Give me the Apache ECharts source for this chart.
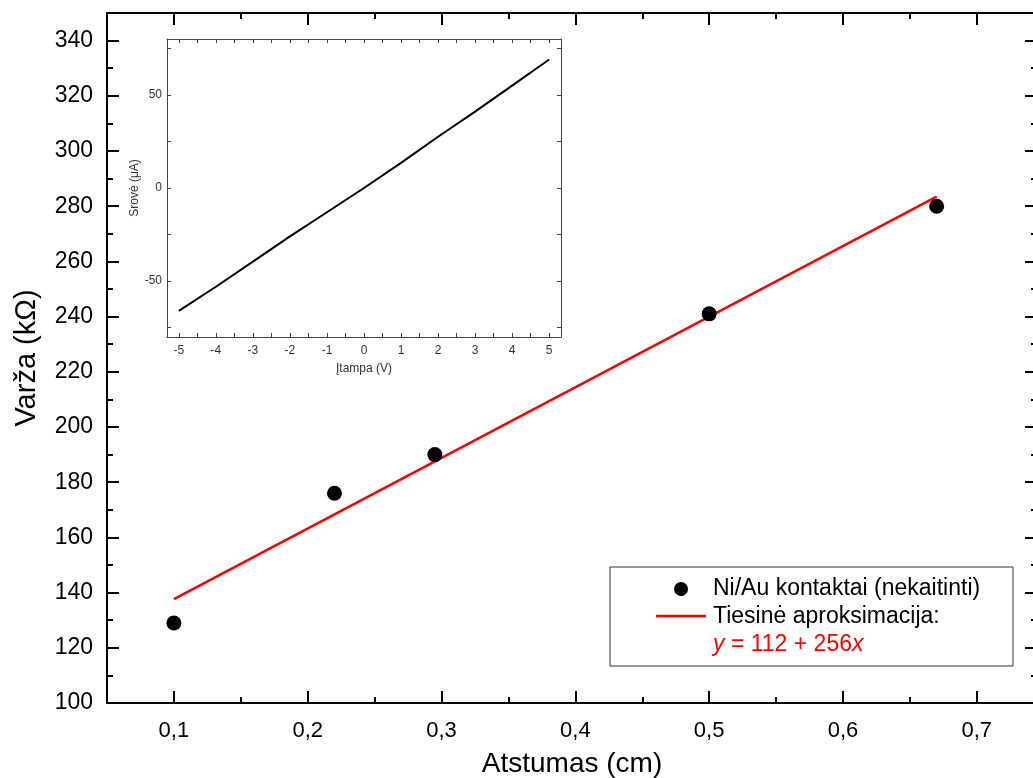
<!DOCTYPE html>
<html>
<head>
<meta charset="utf-8">
<script src="https://cdn.jsdelivr.net/npm/echarts@6/dist/echarts.min.js"></script>
<style>
  html, body { margin: 0; padding: 0; background: #fff; }
  #chart { width: 1033px; height: 778px; }
</style>
</head>
<body>
<div id="chart"></div>
<script>
// main plot: resistance vs distance
const distance = [0.1, 0.22, 0.295, 0.5, 0.67];
const resistance = [129, 176, 190, 241, 280];
// linear fit y = 112 + 256x, ends
const fitX = [0.1, 0.67];
const fitY = [137.6, 283.5];

const xTicks = [0.1, 0.2, 0.3, 0.4, 0.5, 0.6, 0.7];
const xMinor = [0.15, 0.25, 0.35, 0.45, 0.55, 0.65];
const yTicks = [100, 120, 140, 160, 180, 200, 220, 240, 260, 280, 300, 320, 340];
const yMinor = [110, 130, 150, 170, 190, 210, 230, 250, 270, 290, 310, 330];

// inset: I-V curve
const voltage = [-5, -4, -3, -2, -1, 0, 1, 2, 3, 4, 5];
const current = [-66, -53, -39.5, -26, -13, 0, 13.5, 27.5, 41, 55, 69];
const insetXTicks = [-5, -4, -3, -2, -1, 0, 1, 2, 3, 4, 5];
const insetXAllTicks = [-5, -4.5, -4, -3.5, -3, -2.5, -2, -1.5, -1, -0.5, 0, 0.5, 1, 1.5, 2, 2.5, 3, 3.5, 4, 4.5, 5];
const insetYTicks = [-50, 0, 50];
const insetYAllTicks = [-75, -50, -25, 0, 25, 50, 75];

const FONT = "Liberation Sans, Arial, sans-serif";
const chart = echarts.init(document.getElementById("chart"));

const frame = { show: true, onZero: false, lineStyle: { color: "#000", width: 2 } };
const noLine = { show: false, onZero: false };
const mainX = { gridIndex: 0, type: "value", min: 0.05, max: 0.745, splitLine: { show: false } };
const mainY = { gridIndex: 0, type: "value", min: 100, max: 350, splitLine: { show: false } };
const insetX = { gridIndex: 1, type: "value", min: -5.32, max: 5.32, splitLine: { show: false } };
const insetY = { gridIndex: 1, type: "value", min: -80, max: 80, splitLine: { show: false } };
const insetLine = { show: true, onZero: false, lineStyle: { color: "#444", width: 1 } };

const tick = (values, len, width, color) => ({
  show: true, inside: true, length: len, customValues: values,
  lineStyle: { color: color || "#000", width: width }
});

const option = {
  animation: false,
  backgroundColor: "#fff",
  textStyle: { fontFamily: FONT },
  grid: [
    { left: 107, top: 13, width: 930, height: 690, outerBoundsMode: "none", containLabel: false },
    { left: 167, top: 39, width: 394, height: 298, z: 5, outerBoundsMode: "none", containLabel: false }
  ],
  xAxis: [
    Object.assign({}, mainX, {
      position: "bottom", axisLine: frame, axisTick: tick(xTicks, 12, 2),
      axisLabel: {
        customValues: xTicks, fontSize: 22, color: "#000", margin: 17, fontFamily: FONT,
        formatter: (v) => v.toFixed(1).replace(".", ",")
      },
      name: "Atstumas (cm)", nameLocation: "middle", nameGap: 47,
      nameTextStyle: { fontSize: 28, color: "#000", fontFamily: FONT }
    }),
    Object.assign({}, mainX, { position: "bottom", axisLine: noLine, axisTick: tick(xMinor, 6, 2), axisLabel: { show: false } }),
    Object.assign({}, mainX, { position: "top", axisLine: frame, axisTick: tick(xTicks, 12, 2), axisLabel: { show: false } }),
    Object.assign({}, mainX, { position: "top", axisLine: noLine, axisTick: tick(xMinor, 6, 2), axisLabel: { show: false } }),
    Object.assign({}, insetX, {
      position: "bottom", axisLine: insetLine, axisTick: tick(insetXAllTicks, 4, 1, "#444"),
      axisLabel: { customValues: insetXTicks, fontSize: 12, color: "#333", margin: 8, fontFamily: FONT },
      name: "Įtampa (V)", nameLocation: "middle", nameGap: 26,
      nameTextStyle: { fontSize: 12, color: "#333", fontFamily: FONT }
    }),
    Object.assign({}, insetX, { position: "top", axisLine: insetLine, axisTick: tick(insetXAllTicks, 4, 1, "#444"), axisLabel: { show: false } })
  ],
  yAxis: [
    Object.assign({}, mainY, {
      position: "left", axisLine: frame, axisTick: tick(yTicks, 12, 2),
      axisLabel: { customValues: yTicks, fontSize: 23, color: "#000", margin: 14, fontFamily: FONT },
      name: "Varža (kΩ)", nameLocation: "middle", nameGap: 66,
      nameTextStyle: { fontSize: 29, color: "#000", fontFamily: FONT }
    }),
    Object.assign({}, mainY, { position: "left", axisLine: noLine, axisTick: tick(yMinor, 6, 2), axisLabel: { show: false } }),
    Object.assign({}, mainY, { position: "right", axisLine: frame, axisTick: tick(yTicks, 12, 2), axisLabel: { show: false } }),
    Object.assign({}, mainY, { position: "right", axisLine: noLine, axisTick: tick(yMinor, 6, 2), axisLabel: { show: false } }),
    Object.assign({}, insetY, {
      position: "left", axisLine: insetLine, axisTick: tick(insetYAllTicks, 4, 1, "#444"),
      axisLabel: { customValues: insetYTicks, fontSize: 12, color: "#333", margin: 5, fontFamily: FONT },
      name: "Srovė (μA)", nameLocation: "middle", nameGap: 22,
      nameTextStyle: { fontSize: 12, color: "#333", fontFamily: FONT }
    }),
    Object.assign({}, insetY, { position: "right", axisLine: insetLine, axisTick: tick(insetYAllTicks, 4, 1, "#444"), axisLabel: { show: false } })
  ],
  series: [
    {
      name: "Ni/Au kontaktai (nekaitinti)",
      type: "scatter", xAxisIndex: 0, yAxisIndex: 0,
      symbol: "circle", symbolSize: 15,
      itemStyle: { color: "#000", opacity: 1 },
      data: distance.map((d, i) => [d, resistance[i]]),
      z: 4
    },
    {
      name: "Tiesinė aproksimacija:",
      type: "line", xAxisIndex: 0, yAxisIndex: 0,
      showSymbol: false, symbol: "none",
      lineStyle: { color: "#ff0000", width: 2.5 },
      data: fitX.map((d, i) => [d, fitY[i]]),
      z: 3
    },
    {
      type: "line", xAxisIndex: 4, yAxisIndex: 4,
      showSymbol: false, symbol: "none",
      lineStyle: { color: "#000", width: 2 },
      data: voltage.map((v, i) => [v, current[i]])
    }
  ],
  graphic: [
    {
      type: "group", z: 100,
      children: [
        { type: "rect", shape: { x: 610, y: 567, width: 403, height: 99 },
          style: { fill: "#fff", stroke: "#333", lineWidth: 1 } },
        { type: "circle", shape: { cx: 681, cy: 589, r: 7 }, style: { fill: "#000" } },
        { type: "line", shape: { x1: 656, y1: 616, x2: 706, y2: 616 },
          style: { stroke: "#ff0000", lineWidth: 2.5 } },
        { type: "text", x: 713, y: 589,
          style: { text: "Ni/Au kontaktai (nekaitinti)", fontSize: 23, fontFamily: FONT,
                   fill: "#000", verticalAlign: "middle" } },
        { type: "text", x: 713, y: 617,
          style: { text: "Tiesinė aproksimacija:", fontSize: 23, fontFamily: FONT,
                   fill: "#000", verticalAlign: "middle" } },
        { type: "text", x: 713, y: 645,
          style: { text: "{i|y} = 112 + 256{i|x}", fontSize: 23, fontFamily: FONT,
                   fill: "#ff0000", verticalAlign: "middle",
                   rich: { i: { fontStyle: "italic", fontSize: 23, fontFamily: FONT, fill: "#ff0000" } } } }
      ]
    }
  ]
};

chart.setOption(option);
</script>
</body>
</html>
